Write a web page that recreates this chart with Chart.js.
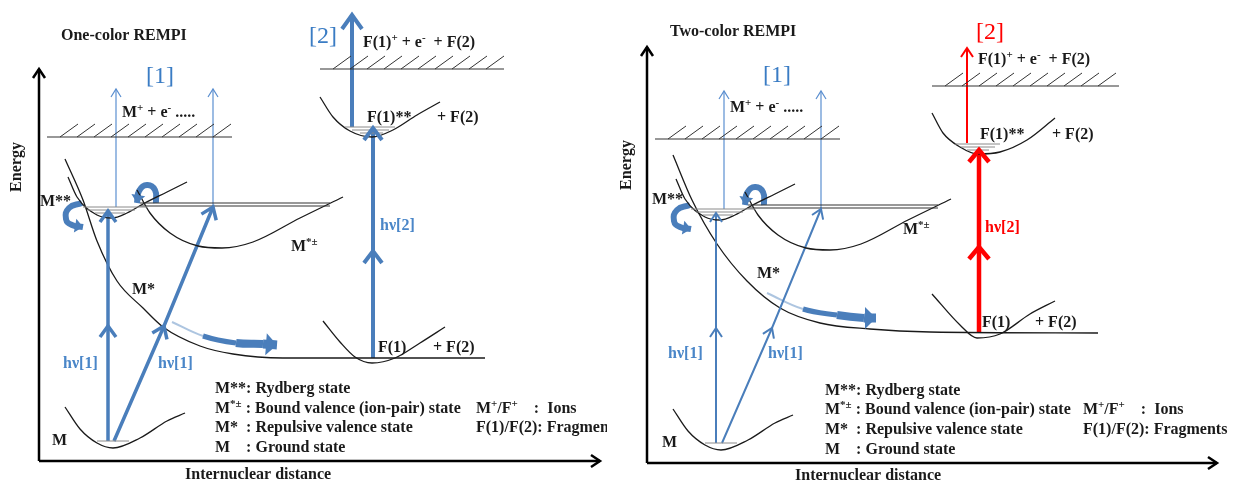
<!DOCTYPE html>
<html>
<head>
<meta charset="utf-8">
<script src="https://cdn.jsdelivr.net/npm/chart.js@4"></script>
<style>
  body { margin: 0; background: #fff; }
  .wrap { display: flex; width: 1240px; height: 482px; }
  canvas { display: block; }
  #oneColor { margin-right: 13px; }
</style>
</head>
<body>
<div class="wrap">
  <canvas id="oneColor" width="607" height="482"></canvas>
  <canvas id="twoColor" width="620" height="482"></canvas>
</div>
<script>
// x = internuclear distance, y = energy (arbitrary units, axis corner = 0,0)

// shared molecule (M) part
const groundWell = [[2.6,5.4],[4.1,3.2],[5.8,1.8],[7.4,1.3],[10.1,2.3],[12.8,4.0],[14.6,4.8]];
const groundLevel = [[5.8,2.0],[9.0,2.0]];
const rydbergWell = [[2.9,28.4],[3.8,26.4],[5.8,24.6],[7.3,24.3],[8.8,24.8],[10.4,25.7],[12.8,26.9],[14.8,27.9]];
const rydbergLevels = [[[4.4,25.4],[10.8,25.4]], [[4.9,25.1],[9.6,25.1]], [[5.6,24.8],[8.6,24.8]]];
const ionPairWell = [[9.8,27.1],[11.1,24.8],[13.1,22.8],[15.9,21.5],[18.3,21.3],[21.4,21.9],[26.1,24.3],[30.4,26.4]];
const ionPairLevels = [[[10.1,25.8],[29.1,25.8]], [[10.1,25.5],[29.1,25.5]]];
const ionLimitM = [[0.8,32.4],[19.3,32.4]];
const photonUp = [[6.9,2.0],[6.9,13.5],[6.9,25.0]];
const photonSlant = [[7.5,2.0],[12.5,13.5],[17.4,25.4]];
const ionizeUp = [[7.7,25.4],[7.7,37.2]];
const ionizeSlant = [[17.4,25.4],[17.4,37.2]];
const curlLeft = [[4.3,25.8],[3.0,25.3],[2.7,24.2],[3.3,23.6],[4.4,23.4]];
const curlTop = [[11.7,25.8],[11.6,27.1],[10.8,27.6],[10.0,27.0],[9.8,25.8]];

// one-color panel
const mStarOne = [[2.6,30.2],[4.4,26.1],[5.8,22.0],[7.8,18.0],[10.4,15.3],[12.4,13.4],[16.1,11.5],[19.4,10.7],[24.4,10.3],[44.6,10.3]];
const fStarOne = [[28.1,36.4],[29.4,34.4],[31.1,33.0],[33.3,32.4],[35.4,33.1],[37.8,34.6],[40.1,35.9]];
const fStarLevelsOne = [[[30.6,33.4],[35.6,33.4]], [[31.3,33.1],[35.0,33.1]], [[32.1,32.8],[34.4,32.8]]];
const fGroundOne = [[28.4,14.0],[30.1,11.9],[31.6,10.4],[33.3,9.8],[35.6,10.3],[38.1,11.8],[40.6,13.4]];
const ionLimitFOne = [[28.1,39.2],[46.5,39.2]];
const fragPumpOne = [[33.4,10.3],[33.4,21.0],[33.4,33.3]];
const fragIonizeOne = [[31.3,33.4],[31.3,44.6]];
const dissocOne = [[13.3,13.9],[16.4,12.5],[19.7,11.8],[22.4,11.7],[23.8,11.6]];

// two-color panel
const mStarTwo = [[2.6,30.8],[4.5,26.3],[7.0,21.9],[10.0,18.2],[13.3,15.5],[17.3,14.0],[22.3,13.4],[28.3,13.1],[45.1,13.0]];
const fStarTwo = [[28.5,35.0],[29.6,33.0],[31.3,31.6],[33.1,30.9],[35.3,31.1],[38.0,32.3],[40.8,34.5]];
const fStarLevelsTwo = [[[30.8,31.9],[35.3,31.9]], [[31.4,31.6],[34.8,31.6]], [[32.0,31.3],[34.2,31.3]]];
const fGroundTwo = [[28.5,16.9],[31.3,13.8],[33.0,12.5],[35.3,12.9],[38.3,14.9],[40.8,16.2]];
const ionLimitFTwo = [[28.5,37.7],[47.2,37.7]];
const fragPumpTwo = [[33.2,13.0],[33.2,21.6],[33.2,31.3]];
const fragIonizeTwo = [[32.0,32.0],[32.0,41.5]];
const dissocTwo = [[12.0,17.0],[15.6,15.4],[19.0,14.8],[21.7,14.5],[22.9,14.5]];

const legendRows = ['M**: Rydberg state', 'M^{*±} : Bound valence (ion-pair) state', 'M*  : Repulsive valence state', 'M    : Ground state'];
const legendRows2 = ['M^{+}/F^{+}    :  Ions', 'F(1)/F(2): Fragments'];

const labelsOne = [
  ['One-color REMPI', 2.2, 42.5, 'title'],
  ['[1]', 12.1, 38.4, 'bigBlue'],
  ['[2]', 28.4, 42.4, 'bigBlue'],
  ['M^{+} + e^{-} .....', 8.3, 34.8, 'label'],
  ['F(1)^{+} + e^{-}  + F(2)', 32.4, 41.8, 'label'],
  ['M**', 0.1, 25.9, 'label'],
  ['F(1)**', 32.8, 34.3, 'label'],
  ['+ F(2)', 39.8, 34.3, 'label'],
  ['M^{*±}', 25.2, 21.4, 'label'],
  ['M*', 9.3, 17.1, 'label'],
  ['hν[1]', 2.4, 9.7, 'hvBlue'],
  ['hν[1]', 11.9, 9.7, 'hvBlue'],
  ['hν[2]', 34.1, 23.5, 'hvBlue'],
  ['F(1)', 33.9, 11.3, 'label'],
  ['+ F(2)', 39.4, 11.3, 'label'],
  ['M', 1.3, 2.0, 'label'],
  [legendRows[0], 17.6, 7.2, 'label'],
  [legendRows[1], 17.6, 5.2, 'label'],
  [legendRows[2], 17.6, 3.3, 'label'],
  [legendRows[3], 17.6, 1.3, 'label'],
  [legendRows2[0], 43.7, 5.2, 'label'],
  [legendRows2[1], 43.7, 3.3, 'label'],
  ['Energy', -2.2, 29.4, 'axisV'],
  ['Internuclear distance', 14.6, -1.4, 'axis']
];

const labelsTwo = [
  ['Two-color REMPI', 2.3, 43.1, 'title'],
  ['[1]', 13.0, 38.7, 'bigBlue'],
  ['[2]', 34.3, 43.0, 'bigRed'],
  ['M^{+} + e^{-} .....', 8.3, 35.5, 'label'],
  ['F(1)^{+} + e^{-}  + F(2)', 33.1, 40.3, 'label'],
  ['M**', 0.5, 26.3, 'label'],
  ['F(1)**', 33.3, 32.8, 'label'],
  ['+ F(2)', 40.5, 32.8, 'label'],
  ['M^{*±}', 25.6, 23.3, 'label'],
  ['M*', 11.0, 18.9, 'label'],
  ['hν[1]', 2.1, 10.9, 'hvBlue'],
  ['hν[1]', 12.1, 10.9, 'hvBlue'],
  ['hν[2]', 33.8, 23.5, 'hvRed'],
  ['F(1)', 33.5, 14.0, 'label'],
  ['+ F(2)', 38.8, 14.0, 'label'],
  ['M', 1.5, 2.0, 'label'],
  [legendRows[0], 17.8, 7.2, 'label'],
  [legendRows[1], 17.8, 5.3, 'label'],
  [legendRows[2], 17.8, 3.3, 'label'],
  [legendRows[3], 17.8, 1.3, 'label'],
  [legendRows2[0], 43.6, 5.3, 'label'],
  [legendRows2[1], 43.6, 3.3, 'label'],
  ['Energy', -2.0, 29.8, 'axisV'],
  ['Internuclear distance', 14.8, -1.3, 'axis']
];

const BLUE = '#4a7ebb';
const BLUE_THIN = '#5b8fd0';
const RED = '#ff0000';
const INK = '#1a1a1a';
const SERIF = '"Liberation Serif", "Times New Roman", serif';

const textStyles = {
  title: { size: 16, weight: 'bold', color: INK },
  label: { size: 16, weight: 'bold', color: INK },
  bigBlue: { size: 24, weight: 'normal', color: '#3a7cc4', align: 'center' },
  bigRed: { size: 24, weight: 'normal', color: RED, align: 'center' },
  hvBlue: { size: 16, weight: 'bold', color: '#4a86c8' },
  hvRed: { size: 16, weight: 'bold', color: RED },
  axis: { size: 16, weight: 'bold', color: INK },
  axisV: { size: 16, weight: 'bold', color: INK, align: 'center', rotate: true }
};

const pts = a => a.map(([x, y]) => ({ x, y }));

const line = (data, color, width, extra = {}) => ({
  data: pts(data), borderColor: color, borderWidth: width,
  pointRadius: 0, fill: false, tension: 0, ...extra
});
const curve = data => line(data, INK, 1.3, { cubicInterpolationMode: 'monotone' });
const level = data => line(data, '#8a8a8a', 1);

// rich text with ^{..} superscripts
function drawRich(ctx, str, x, y, st) {
  const parts = str.split(/(\^\{[^}]*\})/).filter(Boolean)
    .map(s => s.startsWith('^{') ? { s: s.slice(2, -1), sup: true } : { s, sup: false });
  const font = sup => `${st.weight} ${sup ? Math.round(st.size * 0.68) : st.size}px ${SERIF}`;
  let w = 0;
  parts.forEach(p => { ctx.font = font(p.sup); p.w = ctx.measureText(p.s).width; w += p.w; });
  let cx = st.align === 'center' ? x - w / 2 : x;
  ctx.textBaseline = 'middle';
  ctx.textAlign = 'left';
  ctx.fillStyle = st.color;
  parts.forEach(p => {
    ctx.font = font(p.sup);
    ctx.fillText(p.s, cx, p.sup ? y - st.size * 0.3 : y);
    cx += p.w;
  });
}

function head(ctx, tip, from, len, half, filled) {
  const a = Math.atan2(tip.y - from.y, tip.x - from.x);
  const bx = tip.x - len * Math.cos(a), by = tip.y - len * Math.sin(a);
  const nx = -Math.sin(a) * half, ny = Math.cos(a) * half;
  ctx.beginPath();
  ctx.moveTo(bx + nx, by + ny);
  ctx.lineTo(tip.x, tip.y);
  ctx.lineTo(bx - nx, by - ny);
  if (filled) { ctx.closePath(); ctx.fill(); } else ctx.stroke();
}

const diagram = {
  id: 'diagram',
  afterDatasetsDraw(chart, args, opts) {
    const { ctx, scales: { x, y } } = chart;
    ctx.save();
    chart.data.datasets.forEach((ds, i) => {
      const pe = chart.getDatasetMeta(i).data;
      if (ds.hatch) {
        const p0 = pe[0], p1 = pe[pe.length - 1];
        ctx.strokeStyle = '#333';
        ctx.lineWidth = 1;
        ctx.beginPath();
        for (let hx = p0.x + 13; hx + 18 <= p1.x + 1; hx += 17) {
          ctx.moveTo(hx, p0.y);
          ctx.lineTo(hx + 18, p0.y - 13);
        }
        ctx.stroke();
      }
      if (ds.heads) {
        ctx.strokeStyle = ds.borderColor;
        ctx.fillStyle = ds.borderColor;
        ctx.lineWidth = ds.headWidth || ds.borderWidth;
        ctx.lineJoin = 'miter';
        ctx.lineCap = 'butt';
        ds.heads.forEach(k => {
          const p = pe[k];
          const from = (ds.tension > 0 && p.cp1x !== undefined) ? { x: p.cp1x, y: p.cp1y } : pe[k - 1];
          head(ctx, p, from, ds.headLen, ds.headHalf, ds.filledHead);
        });
      }
    });
    opts.texts.forEach(([t, dx, dy, key]) => {
      const st = textStyles[key];
      const px = x.getPixelForValue(dx), py = y.getPixelForValue(dy);
      if (st.rotate) {
        ctx.save();
        ctx.translate(px, py);
        ctx.rotate(-Math.PI / 2);
        drawRich(ctx, t, 0, 0, st);
        ctx.restore();
      } else {
        drawRich(ctx, t, px, py, st);
      }
    });
    ctx.restore();
  }
};

function swoosh(data, color, widths) {
  return line(data, color, 6, {
    tension: 0.4, heads: [data.length - 1], headLen: 11, headHalf: 11, filledHead: true, headWidth: 1,
    segment: {
      borderWidth: c => widths[c.p0DataIndex],
      borderColor: c => c.p0DataIndex === 0 ? 'rgba(74,126,187,0.45)' : color
    }
  });
}

function build(id, o, datasets, texts) {
  new Chart(document.getElementById(id), {
    type: 'line',
    data: { datasets },
    options: {
      responsive: false,
      animation: false,
      events: [],
      layout: { padding: 0 },
      scales: {
        x: { type: 'linear', min: o.xmin, max: o.xmax, display: false },
        y: { type: 'linear', min: o.ymin, max: o.ymax, display: false }
      },
      plugins: { legend: { display: false }, tooltip: { enabled: false }, diagram: { texts } }
    },
    plugins: [diagram]
  });
}

function common(axisTop, axisRight, thick, thickHead) {
  return [
    line([[0, 0], [0, axisTop]], '#000', 2.5, { heads: [1], headLen: 9, headHalf: 6 }),
    line([[0, 0], [axisRight, 0]], '#000', 2.5, { heads: [1], headLen: 9, headHalf: 6 }),
    line(ionLimitM, '#333', 1.2, { hatch: true }),
    ...rydbergLevels.map(level),
    ...ionPairLevels.map(l => line(l, '#333', 1.2)),
    level(groundLevel),
    curve(groundWell),
    curve(rydbergWell),
    curve(ionPairWell),
    line(ionizeUp, BLUE_THIN, 1.2, { heads: [1], headLen: 8, headHalf: 5 }),
    line(ionizeSlant, BLUE_THIN, 1.2, { heads: [1], headLen: 8, headHalf: 5 }),
    line(photonUp, BLUE, thick, { heads: [1, 2], headLen: thickHead[0], headHalf: thickHead[1] }),
    line(photonSlant, BLUE, thick, { heads: [1, 2], headLen: thickHead[0], headHalf: thickHead[1] }),
    line(curlLeft, BLUE, 6, { tension: 0.5, heads: [curlLeft.length - 1], headLen: 8, headHalf: 7, filledHead: true, headWidth: 1 }),
    line(curlTop, BLUE, 6, { tension: 0.5, heads: [curlTop.length - 1], headLen: 8, headHalf: 7, filledHead: true, headWidth: 1 })
  ];
}

build('oneColor', { xmin: -3.9, xmax: 56.8, ymin: -2.1, ymax: 46.1 }, [
  ...common(39.2, 56.1, 3.5, [11, 8]),
  line(ionLimitFOne, '#333', 1.2, { hatch: true }),
  curve(mStarOne),
  ...fStarLevelsOne.map(level),
  curve(fStarOne),
  curve(fGroundOne),
  line(fragPumpOne, BLUE, 4, { heads: [1, 2], headLen: 12, headHalf: 9 }),
  line(fragIonizeOne, BLUE, 4, { heads: [1], headLen: 14, headHalf: 10 }),
  swoosh(dissocOne, BLUE, [2, 5, 8, 9])
], labelsOne);

build('twoColor', { xmin: -2.7, xmax: 59.3, ymin: -1.9, ymax: 46.3 }, [
  ...common(41.6, 57.0, 2, [9, 6]),
  line(ionLimitFTwo, '#333', 1.2, { hatch: true }),
  curve(mStarTwo),
  ...fStarLevelsTwo.map(level),
  curve(fStarTwo),
  curve(fGroundTwo),
  line(fragPumpTwo, RED, 4.5, { heads: [1, 2], headLen: 12, headHalf: 10 }),
  line(fragIonizeTwo, RED, 2, { heads: [1], headLen: 9, headHalf: 6 }),
  swoosh(dissocTwo, BLUE, [2, 5, 8, 9])
], labelsTwo);
</script>
</body>
</html>
